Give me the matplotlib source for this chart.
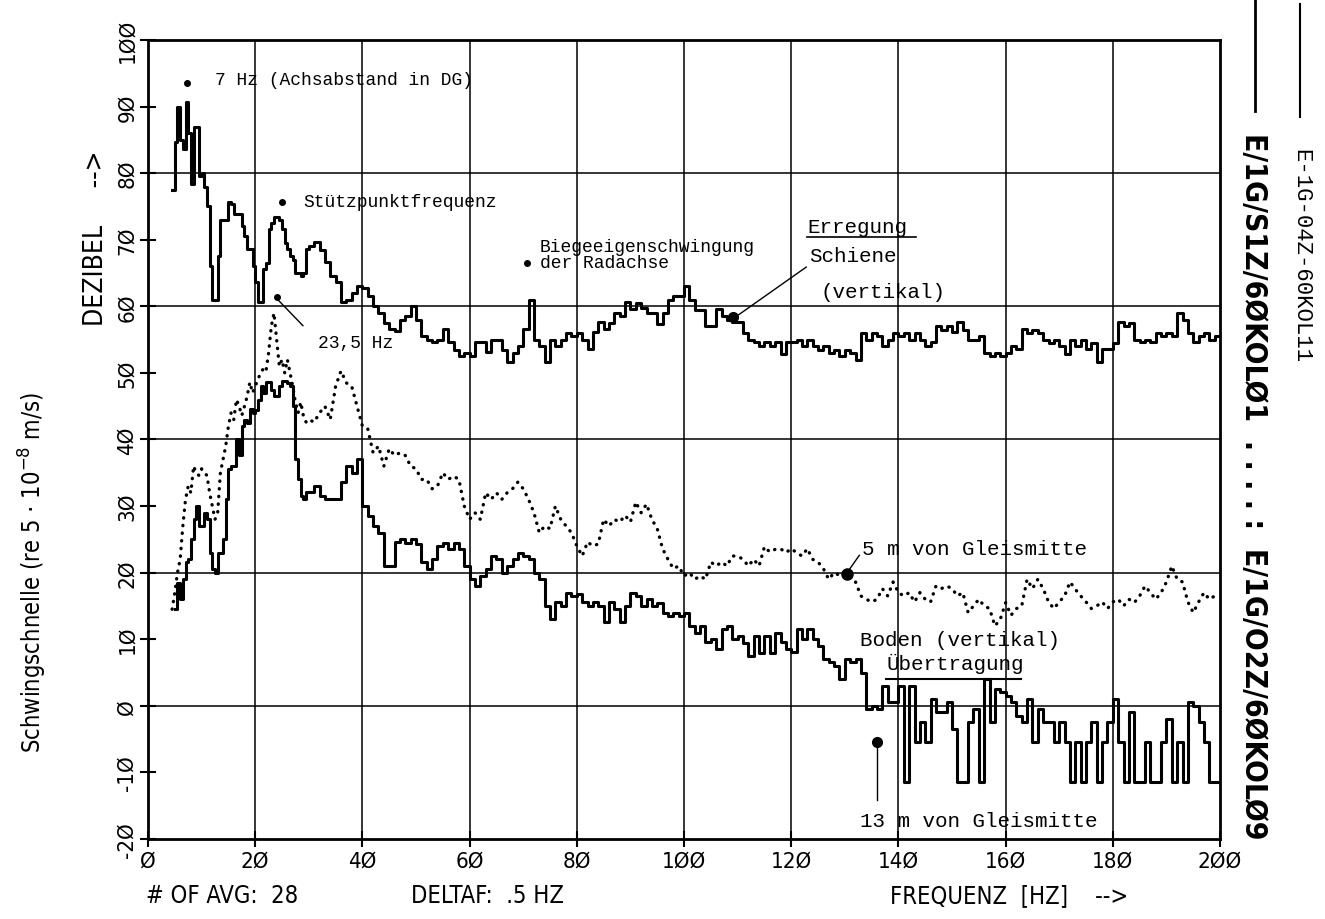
import numpy as np
import matplotlib
matplotlib.use("Agg")
import matplotlib.pyplot as plt

# frequency grid: 0.5 Hz steps below 30 Hz, 1 Hz steps above
f_lo = np.arange(4.5, 30.0, 0.5)
f_hi = np.arange(30.0, 200.0, 1.0)

# Schiene (vertikal), E/1G/S1Z/60KOL01
schiene_lo = [77.4, 84.7, 90, 85, 83.6, 90.7, 86, 78.4, 87, 87,
              79.6, 80, 78, 75, 66, 61, 61, 67.6, 73, 73,
              73, 75.7, 75.4, 73.9, 73.9, 73.9, 72, 70.6, 68.6, 68.6,
              66, 63.7, 60.7, 60.7, 65.6, 66.5, 71.6, 72.5, 73.4, 73.4,
              73, 71.6, 69.5, 68.6, 67.5, 67, 65, 65, 64.6, 65,
              68.6]
schiene_hi = [69, 69.6, 68.5, 66.6, 64.6, 63.7, 60.7, 61, 62, 63,
              62.8, 61.6, 60, 59, 57.5, 56.6, 56.3, 58, 58.6, 60,
              58, 55.5, 55, 54.6, 55, 56.6, 54.6, 53.5, 52.5, 53,
              52.5, 54.6, 54.6, 53.1, 55, 55, 53.5, 51.6, 53, 54,
              56.6, 61, 55, 54, 51.6, 55, 54, 55, 56, 55.6,
              56, 55, 53.6, 56.1, 57.6, 56.6, 57.5, 59, 58.6, 60.6,
              59.6, 60.5, 59.8, 59, 59, 57.4, 59, 61, 61.6, 61.6,
              63, 61, 59.5, 59.5, 57, 57, 59.6, 58.6, 58, 57.6,
              57.6, 56, 55, 54.6, 54, 54.6, 54, 54.6, 52.8, 54.6,
              54.6, 55, 54, 55, 54, 53.5, 54, 53, 53.5, 52.5,
              53.5, 53, 52, 56, 55, 56, 55.5, 54, 55, 56,
              55.5, 56, 55, 56, 55, 54, 54.6, 57, 56.5, 57,
              56.1, 57.6, 56.5, 55, 55, 55.5, 53, 52.5, 53, 52.5,
              53, 54, 53.6, 56.6, 56, 56.5, 56, 55, 54.5, 55,
              54, 52.8, 55, 54, 55, 53.6, 54.5, 51.6, 53.6, 53.6,
              54.5, 57.6, 57, 57.5, 55, 54.6, 55, 54.6, 56, 55.6,
              56, 55.6, 59, 58, 56, 54.6, 55.5, 56, 55, 55.5]

# Boden, 5 m von Gleismitte, E/1G/O2Z/60KOL09 (dotted)
boden5_lo = [14.5, 17, 20, 22, 27, 31, 33, 32, 36, 35,
             34.6, 35.6, 35, 34.6, 32, 30, 28, 29, 35, 37,
             39, 42, 44, 43, 46, 45, 43.6, 45, 46.5, 48.6,
             47, 48, 49, 50, 50.6, 50.2, 53, 57, 59, 55,
             51, 52, 50, 52, 50, 48, 45.6, 44, 45.6, 43.5,
             42.6]
boden5_hi = [43, 42.6, 44, 45, 43, 48, 50.3, 48.5, 48, 45,
             42, 41.6, 38, 39, 36, 38.6, 37.6, 38, 37.6, 36,
             35.6, 34, 34, 32.6, 33, 35, 34, 34.5, 34, 30,
             28, 29, 28, 32, 31, 32, 31, 32, 32.6, 33.6,
             32.6, 31, 29, 26, 27, 26.6, 30, 28, 27, 26,
             24, 22.5, 24.6, 24, 24.3, 28, 27, 28, 27.6, 28.6,
             27.6, 30.6, 29, 30.3, 28, 26.6, 23.6, 22, 20.6, 21,
             19.5, 20, 19, 19.5, 19, 21.6, 21, 21.6, 21, 22.5,
             22.5, 22, 21, 22, 21, 23.9, 23.1, 23.5, 23.6, 23,
             23.6, 23, 22.5, 23.6, 22, 21.6, 20.6, 19, 20, 19.6,
             20, 19.6, 18.6, 16.5, 16, 15.6, 16, 17.6, 16.5, 18.6,
             17, 16.5, 17, 15.6, 17, 16, 15.6, 18, 17.6, 18,
             17.6, 16.5, 17, 14, 15, 16, 15, 14.6, 12, 13,
             15.5, 13.6, 14.6, 15, 19, 17.6, 19, 17.6, 15.6, 14.6,
             15.6, 16.5, 18.6, 17.5, 16.5, 15.6, 14.6, 15, 15.6, 14.6,
             15.6, 16, 15, 16, 15.5, 16.5, 18, 17, 16, 17,
             18.6, 21, 19, 18.6, 15.6, 14, 15.6, 17, 16, 16.5]

# Boden, 13 m von Gleismitte, E-1G-04Z-60KOL11
boden13_lo = [np.nan, 14.6, 18.5, 16, 19, 21.6, 22, 25, 28, 30,
              27, 27, 29, 28, 23, 20.5, 20, 23, 23, 25,
              31, 35.6, 36, 36, 40, 37.6, 42, 43, 42.5, 44.6,
              44, 44.5, 46, 48, 47, 48.6, 48.6, 47.5, 46.6, 46.6,
              48, 48.8, 48.8, 48.5, 48, 45, 37, 34, 31.5, 31,
              32.1]
boden13_hi = [32.1, 33, 31.5, 31, 31, 31, 33.6, 36, 35, 37,
              30, 28.5, 27, 26, 21, 21, 24.6, 25, 24.5, 25,
              24.3, 21.6, 20.6, 22, 24, 24.5, 23.6, 24.5, 23.6, 21,
              19, 18, 19.5, 20.6, 22.5, 22, 20, 21, 22, 23,
              22.5, 22, 20, 19, 15, 13, 15.6, 15, 17, 16.5,
              16.8, 15.6, 15, 15.6, 15, 12.6, 15.6, 14.6, 12.6, 15,
              17, 16.5, 15, 16, 15, 15.5, 14, 13.5, 14, 13.5,
              14, 12, 11, 12, 9.6, 10, 8.6, 11.5, 12, 10,
              10.5, 9.5, 7.5, 10.5, 8, 10.5, 8, 11, 9.6, 8.6,
              8.1, 11.5, 10, 11.5, 10, 9, 7, 6.6, 6, 4,
              7, 6.6, 7, 5, -0.5, 0, -0.5, 3, 0.5, 0.5,
              3, -11.4, 3, -5.4, -2.4, -5.4, 1, -1, -1, 0.5,
              -3.5, -11.4, -11.4, -2.4, -0.5, -11.4, 4, -2.4, 2.5, 2,
              1.5, 0.5, -1.5, -2.4, 1, -5.4, -0.5, -2.4, -2.4, -5.4,
              -2.4, -5.4, -11.4, -5.5, -11.4, -5.5, -2.4, -11.4, -5.5, -2.4,
              1, -5.5, -11.4, -1, -11.4, -11.4, -5.5, -11.4, -11.4, -5.5,
              -2, -11.4, -5.5, -11.4, 0.5, 0, -2.4, -5.5, -11.4, -11.4]

x_ticks = list(range(0, 201, 20))
y_ticks = list(range(-20, 101, 10))


def slashed(v):
    # the plotter prints zeros with a slash
    return str(v).replace("0", "\u00d8")


def steps(lo, hi):
    f = np.concatenate([f_lo, f_hi, [200.0]])
    v = np.concatenate([lo, hi, [hi[-1]]])
    return f, v


plotter = {"family": ["DejaVu Sans"], "fontstretch": "condensed"}
mono = {"family": ["Liberation Mono", "DejaVu Sans Mono"]}

fig = plt.figure(figsize=(13.25, 9.2), dpi=100)
ax = fig.add_axes([0.1117, 0.0870, 0.8091, 0.8684])
ax.set_xlim(0, 200)
ax.set_ylim(-20, 100)

for g in range(20, 200, 20):
    ax.axvline(g, color="k", lw=1.1, zorder=1)
for g in range(0, 100, 20):
    ax.axhline(g, color="k", lw=1.1, zorder=1)

f, v = steps(schiene_lo, schiene_hi)
ax.plot(f, v, drawstyle="steps-post", color="k", lw=2.2, zorder=3)
f, v = steps(boden13_lo, boden13_hi)
ax.plot(f, v, drawstyle="steps-post", color="k", lw=2.2, zorder=3)
f = np.concatenate([f_lo, f_hi])
v = np.concatenate([boden5_lo, boden5_hi])
ax.plot(f, v, color="k", lw=2.4, ls=(0, (0.1, 2.2)),
        dash_capstyle="round", zorder=3)

for s in ax.spines.values():
    s.set_linewidth(2)
ax.set_xticks(x_ticks)
ax.set_xticklabels([slashed(t) for t in x_ticks], fontsize=16, **plotter)
ax.set_yticks(y_ticks)
ax.set_yticklabels([slashed(t) for t in y_ticks], fontsize=16, rotation=90,
                   va="center", **plotter)
ax.tick_params(direction="inout", length=12, width=1.5, pad=2)

ax.set_ylabel("DEZIBEL     -->", fontsize=19, **plotter)
ax.yaxis.set_label_coords(-0.036, 0.753)
fig.text(0.025, 0.378, r"Schwingschnelle (re 5 $\cdot$ 10$^{-8}$ m/s)",
         rotation=90, ha="center", va="center", fontsize=17, **plotter)

fig.text(0.11, 0.018, "# OF AVG:  28", fontsize=17, **plotter)
fig.text(0.31, 0.018, "DELTAF:  .5 HZ", fontsize=17, **plotter)
fig.text(0.672, 0.018, "FREQUENZ  [HZ]    -->", fontsize=17, **plotter)

# right margin identification
fig.text(0.946, 0.855,
         "E/1G/S1Z/6\u00d8KOL\u00d81  . . . . :  E/1G/O2Z/6\u00d8KOL\u00d89",
         rotation=-90, ha="center", va="top", fontsize=21.5, fontweight="bold",
         **plotter)
fig.lines.append(plt.Line2D([0.947, 0.947], [1.0, 0.878], color="k", lw=2,
                            transform=fig.transFigure))
fig.text(0.982, 0.838, "E-1G-04Z-60KOL11", rotation=-90, ha="center",
         va="top", fontsize=16, **mono)
fig.lines.append(plt.Line2D([0.981, 0.981], [0.995, 0.872], color="k", lw=1.5,
                            transform=fig.transFigure))

# annotations
txt = dict(fontsize=13, color="k", **mono)
ax.plot(7.3, 93.5, "o", color="k", ms=4)
ax.text(12.5, 94, "7 Hz (Achsabstand in DG)", va="center", **txt)
ax.plot(25, 75.7, "o", color="k", ms=4)
ax.text(28.9, 75.7, "St\u00fctzpunktfrequenz", va="center", **txt)
ax.plot(70.7, 66.5, "o", color="k", ms=4)
ax.text(73.1, 67.8, "Biegeeigenschwingung\nder Radachse", va="center",
        linespacing=0.95, **txt)
ax.plot([24.1, 28.9], [61.1, 57.1], color="k", lw=1)
ax.plot(24.0, 61.4, "o", color="k", ms=4)
ax.text(31.7, 54.6, "23,5 Hz", va="center", **txt)

big = dict(fontsize=15, color="k", **mono)
ax.text(123.0, 72.0, "Erregung", va="center", **big)
ax.plot([123.0, 143.2], [70.4, 70.4], color="k", lw=1.2)
ax.text(123.3, 67.7, "Schiene", va="center", **big)
ax.text(125.4, 62.3, "(vertikal)", va="center", **big)
ax.plot([122.8, 109.6], [65.9, 58.4], color="k", lw=1)
ax.plot(109.2, 58.4, "o", color="k", ms=7)

ax.plot(130.4, 19.8, "o", color="k", ms=8)
ax.plot([130.6, 132.7], [20.2, 22.6], color="k", lw=1)
ax.text(133.2, 23.6, "5 m von Gleismitte", va="center", **big)
ax.text(132.8, 9.9, "Boden (vertikal)", va="center", **big)
ax.text(137.7, 6.5, "\u00dcbertragung", va="center", **big)
ax.plot([137.7, 162.8], [4.0, 4.0], color="k", lw=1.5)
ax.plot(136, -5.4, "o", color="k", ms=7)
ax.plot([136, 136], [-5.4, -14.2], color="k", lw=1)
ax.text(132.8, -17.3, "13 m von Gleismitte", va="center", **big)

fig.savefig("out.png", dpi=100)
